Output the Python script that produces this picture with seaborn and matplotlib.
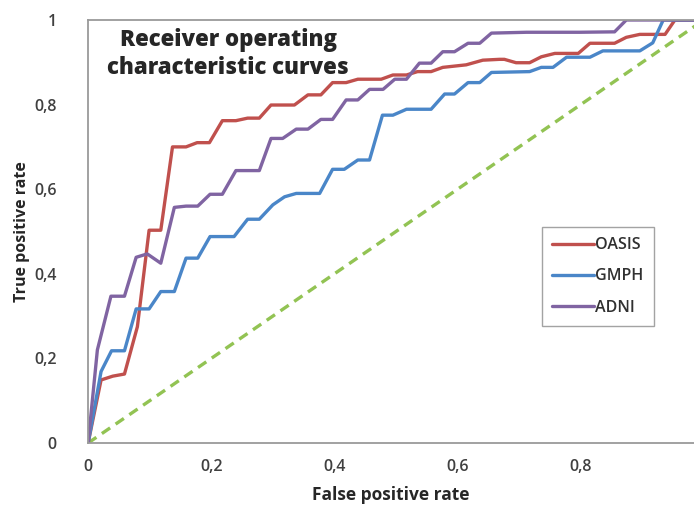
import numpy as np
import pandas as pd
import seaborn as sns
import matplotlib.pyplot as plt
from matplotlib.ticker import MultipleLocator, FuncFormatter

# datos (tasa de falsos positivos / verdaderos positivos)
oasis_fpr = [0, 0.021, 0.040, 0.059, 0.080, 0.099, 0.118, 0.137, 0.159, 0.177, 0.197, 0.218,
             0.240, 0.259, 0.278, 0.297, 0.335, 0.357, 0.378, 0.397, 0.419, 0.438, 0.476, 0.495,
             0.517, 0.535, 0.557, 0.576, 0.614, 0.641, 0.668, 0.676, 0.695, 0.717, 0.736, 0.758,
             0.796, 0.815, 0.855, 0.874, 0.896, 0.937, 0.953, 1.0]
oasis_tpr = [0, 0.149, 0.158, 0.163, 0.275, 0.503, 0.503, 0.700, 0.700, 0.710, 0.710, 0.762,
             0.762, 0.768, 0.768, 0.799, 0.799, 0.823, 0.823, 0.852, 0.852, 0.860, 0.860, 0.870,
             0.870, 0.878, 0.878, 0.888, 0.894, 0.905, 0.907, 0.907, 0.899, 0.899, 0.913, 0.921,
             0.921, 0.945, 0.945, 0.959, 0.966, 0.966, 1.0, 1.0]

gmph_fpr = [0, 0.021, 0.038, 0.059, 0.078, 0.099, 0.118, 0.140, 0.159, 0.178, 0.198, 0.237,
            0.259, 0.278, 0.300, 0.319, 0.338, 0.376, 0.397, 0.416, 0.438, 0.457, 0.478, 0.495,
            0.517, 0.557, 0.579, 0.595, 0.617, 0.636, 0.655, 0.717, 0.736, 0.755, 0.777, 0.815,
            0.836, 0.896, 0.917, 0.934, 1.0]
gmph_tpr = [0, 0.169, 0.218, 0.218, 0.317, 0.317, 0.358, 0.358, 0.437, 0.437, 0.488, 0.488,
            0.529, 0.529, 0.563, 0.582, 0.590, 0.590, 0.647, 0.647, 0.669, 0.669, 0.775, 0.775,
            0.789, 0.789, 0.825, 0.825, 0.852, 0.852, 0.876, 0.878, 0.888, 0.888, 0.912, 0.912,
            0.927, 0.927, 0.946, 1.0, 1.0]

adni_fpr = [0, 0.015, 0.037, 0.059, 0.078, 0.096, 0.118, 0.140, 0.159, 0.178, 0.198, 0.218,
            0.240, 0.278, 0.297, 0.316, 0.338, 0.357, 0.378, 0.397, 0.419, 0.438, 0.457, 0.479,
            0.498, 0.517, 0.538, 0.557, 0.576, 0.595, 0.617, 0.636, 0.655, 0.712, 0.798, 0.855,
            0.874, 1.0]
adni_tpr = [0, 0.220, 0.347, 0.347, 0.439, 0.447, 0.425, 0.557, 0.560, 0.560, 0.588, 0.588,
            0.644, 0.644, 0.720, 0.720, 0.742, 0.742, 0.765, 0.765, 0.811, 0.811, 0.836, 0.836,
            0.860, 0.860, 0.898, 0.898, 0.925, 0.925, 0.945, 0.945, 0.969, 0.971, 0.971, 0.972,
            1.0, 1.0]

azar = [0, 1]

series = ["OASIS", "GMPH", "ADNI"]
colores = {"OASIS": "#c0504d", "GMPH": "#4a86c8", "ADNI": "#8064a2"}

# tabla larga para seaborn
df = pd.concat([
    pd.DataFrame({"fpr": oasis_fpr, "tpr": oasis_tpr, "serie": "OASIS"}),
    pd.DataFrame({"fpr": gmph_fpr, "tpr": gmph_tpr, "serie": "GMPH"}),
    pd.DataFrame({"fpr": adni_fpr, "tpr": adni_tpr, "serie": "ADNI"}),
])

sns.set_style("white")
plt.rcParams["font.family"] = ["Open Sans", "DejaVu Sans"]

fig = plt.figure(figsize=(6.94, 5.05), dpi=100)
ax = fig.add_axes([0.127, 0.1228, 0.873, 0.8376])

# diagonal de referencia
sns.lineplot(x=azar, y=azar, color="#92c353", linestyle=(0, (3, 2)), linewidth=2.4, ax=ax)

sns.lineplot(data=df, x="fpr", y="tpr", hue="serie", hue_order=series, palette=colores,
             sort=False, estimator=None, linewidth=2.4, ax=ax)

ax.set_xlim(0, 0.984)
ax.set_ylim(0, 1)

# ticks cada 0.1, etiquetas cada 0.2 con coma decimal
coma = FuncFormatter(lambda v, p: ("%g" % round(v, 2)).replace(".", ","))
for eje in (ax.xaxis, ax.yaxis):
    eje.set_major_locator(MultipleLocator(0.2))
    eje.set_minor_locator(MultipleLocator(0.1))
    eje.set_major_formatter(coma)

ax.tick_params(axis="both", which="both", direction="inout", length=7, width=1,
               color="#8c8c8c", labelsize=11.5, labelcolor="#404040")
ax.tick_params(axis="x", which="major", pad=8)
ax.tick_params(axis="y", which="major", pad=19)
for t in ax.get_xticklabels() + ax.get_yticklabels():
    t.set_fontweight("semibold")

for lado in ["left", "bottom", "top"]:
    ax.spines[lado].set_color("#9a9a9a")
    ax.spines[lado].set_linewidth(1.3)
ax.spines["right"].set_visible(False)

ax.set_xlabel("False positive rate", fontsize=12.5, fontweight="bold", labelpad=8)
ax.set_ylabel("True positive rate", fontsize=11.5, fontweight="bold", labelpad=3)

ax.text(0.231, 0.98, "Receiver operating\ncharacteristic curves", transform=ax.transAxes,
        ha="center", va="top", fontsize=16, fontweight=800, multialignment="center",
        linespacing=1.2)

leg = ax.legend(loc="upper left", bbox_to_anchor=(0.749, 0.511), borderaxespad=0,
                fontsize=11.5, frameon=True, fancybox=False, edgecolor="#8c8c8c",
                handlelength=2.6, handletextpad=0.1, labelspacing=0.95, borderpad=0.65)
leg.get_frame().set_linewidth(1)
for t in leg.get_texts():
    t.set_color("#303030")
    t.set_fontweight("semibold")

plt.savefig("out.png", dpi=100)
